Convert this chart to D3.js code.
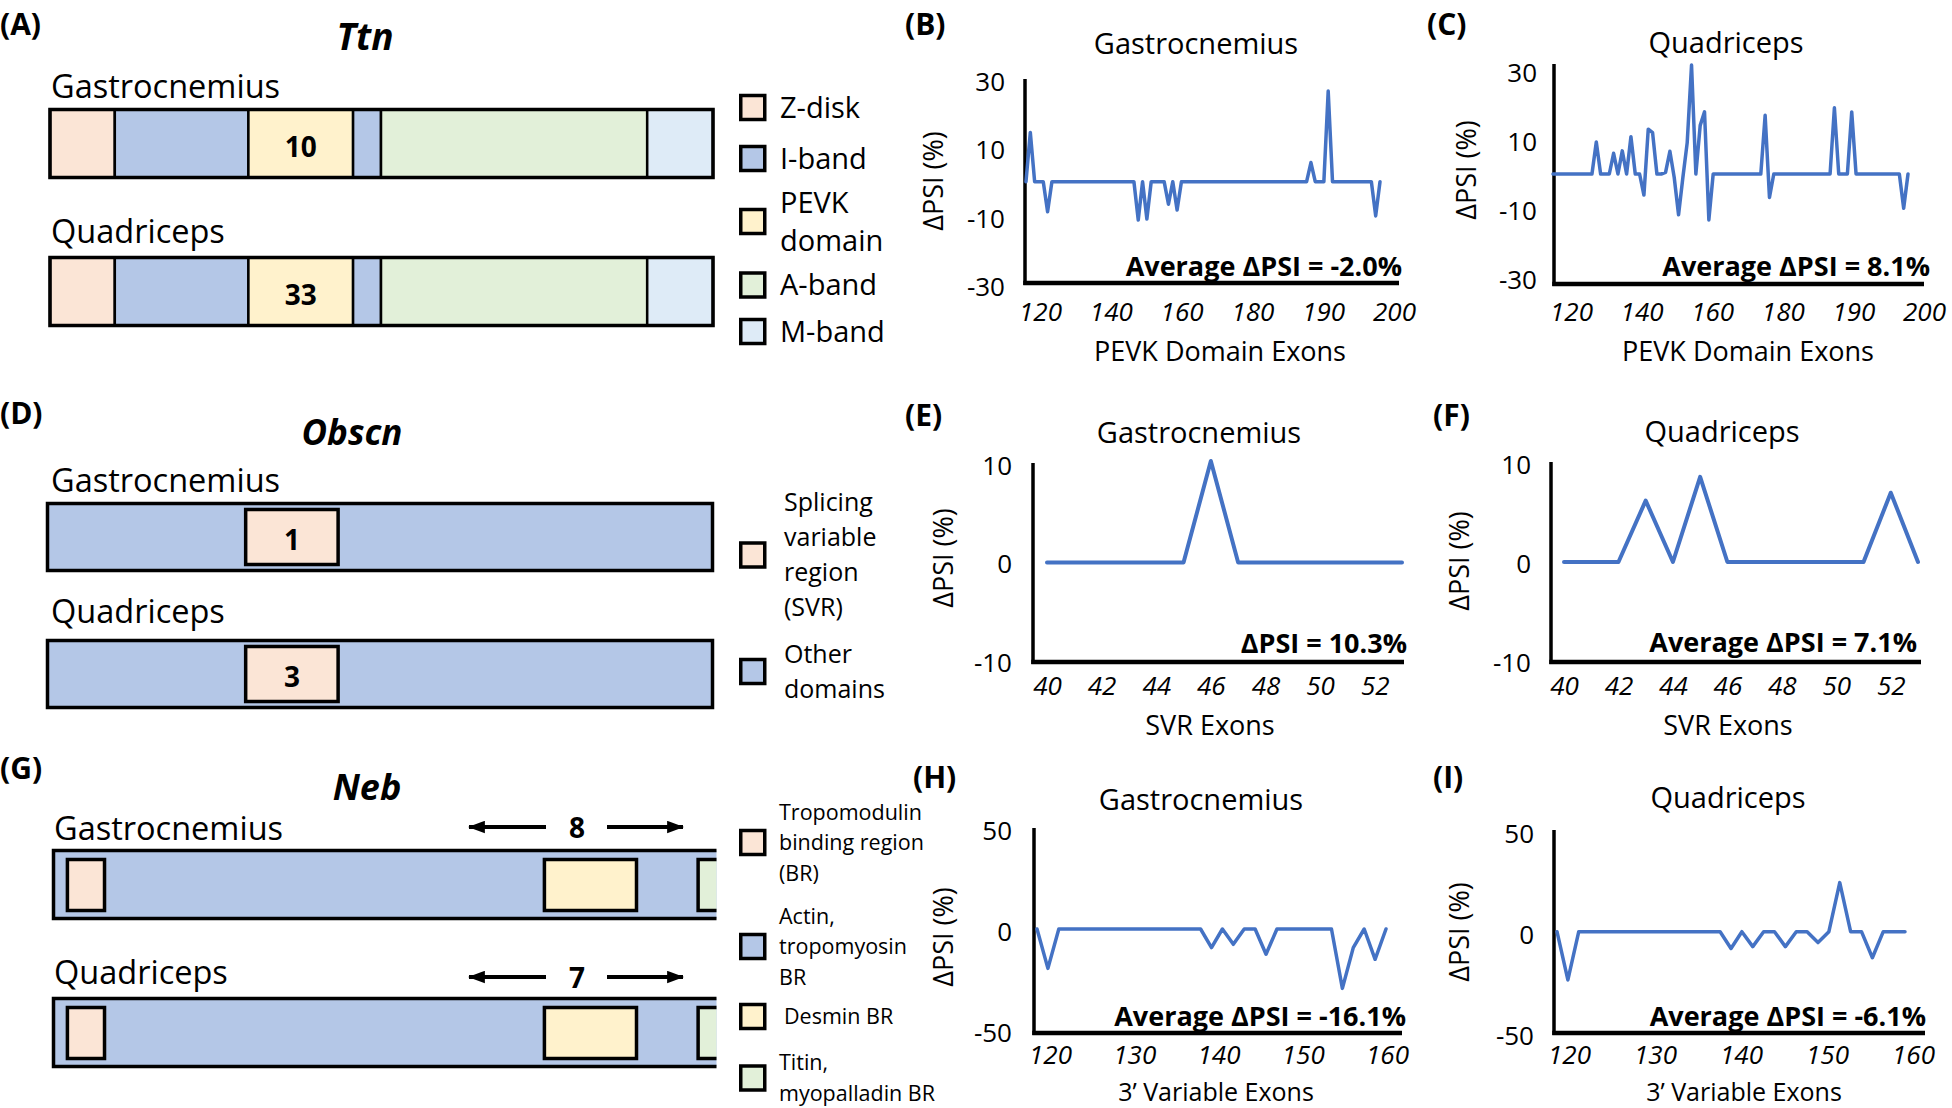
<!DOCTYPE html>
<html>
<head>
<meta charset="utf-8">
<script src="https://cdn.jsdelivr.net/npm/d3@7"></script>
<style>
html,body{margin:0;padding:0;background:#fff;}
svg{display:block;}
</style>
</head>
<body>
<svg id="fig" width="1952" height="1108"></svg>
<script>
// ================= DATA =================
const muscles = ["Gastrocnemius", "Quadriceps"];

// (A) Ttn schematic (relative domain lengths)
const ttnDomains = ["Z-disk", "I-band", "PEVK domain", "I-band", "A-band", "M-band"];
const ttnDomainLengths = [65, 134, 105, 28, 267, 66];
const ttnPevkExons = [10, 33];
const ttnLegendItems = ["Z-disk", "I-band", "PEVK domain", "A-band", "M-band"];
const ttnLegendLines = [["Z-disk"], ["I-band"], ["PEVK", "domain"], ["A-band"], ["M-band"]];

// (D) Obscn schematic
const obscnLength = 100;
const obscnSvrRange = [29.8, 43.7];
const obscnSvrExons = [1, 3];
const obscnLegendItems = ["SVR", "Other domains"];
const obscnLegendLines = [["Splicing", "variable", "region", "(SVR)"], ["Other", "domains"]];

// (G) Neb schematic
const nebLength = 100;
const nebBoxes = ["Tropomodulin BR", "Desmin BR", "Titin, myopalladin BR"];
const nebBoxStart = [2.1, 74.1, 97.3];
const nebBoxEnd = [7.7, 88.0, 102.5];
const nebVariableExons = [8, 7];
const nebLegendItems = ["Tropomodulin BR", "Actin, tropomyosin BR", "Desmin BR", "Titin, myopalladin BR"];
const nebLegendLines = [["Tropomodulin", "binding region", "(BR)"], ["Actin,", "tropomyosin", "BR"], ["Desmin BR"], ["Titin,", "myopalladin BR"]];

// (B)(C) Ttn PEVK exons dPSI
const pevkTicks = ["120", "140", "160", "180", "190", "200"];
const pevkGastroPsi = [
  0, 14.4, 0, 0, 0, -8.8, 0, 0, 0, 0,
  0, 0, 0, 0, 0, 0, 0, 0, 0, 0,
  0, 0, 0, 0, 0, 0, -11.2, 0, -10.9, 0,
  0, 0, 0, -6.6, 0, -8.3, 0, 0, 0, 0,
  0, 0, 0, 0, 0, 0, 0, 0, 0, 0,
  0, 0, 0, 0, 0, 0, 0, 0, 0, 0,
  0, 0, 0, 0, 0, 0, 5.6, 0, 0, 0,
  26.5, 0, 0, 0, 0, 0, 0, 0, 0, 0,
  0, -10, 0];
const pevkQuadPsi = [
  0, 0, 0, 0, 0, 0, 0, 0, 0, 0,
  9.3, 0, 0, 0, 6.0, 0, 6.7, 0, 10.8, 0,
  0, -6.1, 13.0, 12.0, 0, 0, 0.5, 6.6, -1, -11.8,
  -1, 9.1, 31.6, 0, 14.1, 18, -13.3, 0, 0, 0,
  0, 0, 0, 0, 0, 0, 0, 0, 0, 17,
  -6.8, 0, 0, 0, 0, 0, 0, 0, 0, 0,
  0, 0, 0, 0, 0, 19.2, 0, 0, 0, 18,
  0, 0, 0, 0, 0, 0, 0, 0, 0, 0,
  0, -9.9, 0];
const pevkLabels = ["Average ΔPSI = -2.0%", "Average ΔPSI = 8.1%"];

// (E)(F) Obscn SVR exons dPSI
const svrExons = [40, 41, 42, 43, 44, 45, 46, 47, 48, 49, 50, 51, 52, 53];
const svrTicks = [40, 42, 44, 46, 48, 50, 52];
const svrGastroPsi = [0, 0, 0, 0, 0, 0, 10.3, 0, 0, 0, 0, 0, 0, 0];
const svrQuadPsi = [0, 0, 0, 6.2, 0, 8.6, 0, 0, 0, 0, 0, 0, 7.0, 0];
const svrLabels = ["ΔPSI = 10.3%", "Average ΔPSI = 7.1%"];

// (H)(I) Neb 3' variable exons dPSI
const nebTicks = ["120", "130", "140", "150", "160"];
const nebGastroPsi = [
  0, -19.5, 0, 0, 0, 0, 0, 0, 0, 0,
  0, 0, 0, 0, 0, 0, -9.2, 0, -7.6, 0,
  0, -12.5, 0, 0, 0, 0, 0, 0, -29.4, -9.2,
  0, -15, 0];
const nebQuadPsi = [
  0, -23.9, 0, 0, 0, 0, 0, 0, 0, 0,
  0, 0, 0, 0, 0, 0, -8.3, 0, -7.4, 0,
  0, -7.4, 0, 0, -5.4, 0, 24.3, 0, 0, -12.9,
  0, 0, 0];
const nebLabels = ["Average ΔPSI = -16.1%", "Average ΔPSI = -6.1%"];

// ================= STYLE =================
const FONT = '"Open Sans", "Liberation Sans", sans-serif';
const colorOf = {
  "Z-disk": "#FBE5D6", "I-band": "#B4C7E7", "PEVK domain": "#FFF2CC", "A-band": "#E2F0D9", "M-band": "#DEEBF7",
  "SVR": "#FBE5D6", "Other domains": "#B4C7E7",
  "Tropomodulin BR": "#FBE5D6", "Actin, tropomyosin BR": "#B4C7E7", "Desmin BR": "#FFF2CC", "Titin, myopalladin BR": "#E2F0D9"
};
const LINE_COLOR = "#4472C4";

const svg = d3.select("#fig");
svg.append("rect").attr("width", 1952).attr("height", 1108).attr("fill", "#fff");

function txt(g, x, y, s, o = {}) {
  return g.append("text")
    .attr("x", x).attr("y", y)
    .attr("font-family", FONT)
    .attr("font-size", o.size || 26)
    .attr("font-weight", o.weight || "normal")
    .attr("font-style", o.style || "normal")
    .attr("text-anchor", o.anchor || "start")
    .attr("fill", "#000")
    .text(String(s));
}

function legend(g, items, lines, sqX, centers, textX, lineH, size) {
  items.forEach((it, i) => {
    g.append("rect")
      .attr("x", sqX + 1.75).attr("y", centers[i] - 12).attr("width", 24).attr("height", 24)
      .attr("fill", colorOf[it]).attr("stroke", "#000").attr("stroke-width", 3.5);
    const n = lines[i].length;
    lines[i].forEach((ln, k) => {
      txt(g, Array.isArray(textX) ? textX[i] : textX, centers[i] + (k - (n - 1) / 2) * lineH + size * 0.357, ln, { size });
    });
  });
}

// ================= (A) Ttn =================
{
  const g = svg.append("g");
  txt(g, 0, 35, "(A)", { size: 30, weight: "bold" });
  txt(g, 365, 50, "Ttn", { size: 37, weight: "bold", style: "italic", anchor: "middle" });
  const ends = d3.cumsum(ttnDomainLengths);
  const x = d3.scaleLinear().domain([0, d3.sum(ttnDomainLengths)]).range([50, 713]);
  const rows = [{ y: 109.5, label: 98 }, { y: 257.5, label: 243 }];
  muscles.forEach((m, i) => {
    const r = rows[i];
    txt(g, 51, r.label, m, { size: 32.5 });
    ttnDomains.forEach((d, j) => {
      const s = j ? ends[j - 1] : 0;
      g.append("rect").attr("x", x(s)).attr("y", r.y).attr("width", x(ends[j]) - x(s)).attr("height", 68)
        .attr("fill", colorOf[d]).attr("stroke", "#000").attr("stroke-width", 2.5);
    });
    g.append("rect").attr("x", x(0)).attr("y", r.y).attr("width", x(ends[ends.length - 1]) - x(0)).attr("height", 68)
      .attr("fill", "none").attr("stroke", "#000").attr("stroke-width", 3.5);
    const pj = ttnDomains.indexOf("PEVK domain");
    txt(g, (x(ends[pj - 1]) + x(ends[pj])) / 2, r.y + 47, ttnPevkExons[i], { size: 28, weight: "bold", anchor: "middle" });
  });
  legend(g, ttnLegendItems, ttnLegendLines, 739, [107.5, 158.5, 221.5, 285, 331.5], 780, 38, 29);
}

// ================= (D) Obscn =================
{
  const g = svg.append("g");
  txt(g, 0, 424, "(D)", { size: 30, weight: "bold" });
  txt(g, 352, 445, "Obscn", { size: 35, weight: "bold", style: "italic", anchor: "middle" });
  const x = d3.scaleLinear().domain([0, obscnLength]).range([47.5, 712.5]);
  const rows = [{ y: 503.5, label: 492 }, { y: 640.5, label: 623 }];
  muscles.forEach((m, i) => {
    const r = rows[i];
    txt(g, 51, r.label, m, { size: 32.5 });
    g.append("rect").attr("x", x(0)).attr("y", r.y).attr("width", x(obscnLength) - x(0)).attr("height", 67)
      .attr("fill", colorOf["Other domains"]).attr("stroke", "#000").attr("stroke-width", 3.5);
    g.append("rect").attr("x", x(obscnSvrRange[0])).attr("y", r.y + 6).attr("width", x(obscnSvrRange[1]) - x(obscnSvrRange[0])).attr("height", 55)
      .attr("fill", colorOf["SVR"]).attr("stroke", "#000").attr("stroke-width", 3.5);
    txt(g, (x(obscnSvrRange[0]) + x(obscnSvrRange[1])) / 2, r.y + 46, obscnSvrExons[i], { size: 28, weight: "bold", anchor: "middle" });
  });
  legend(g, obscnLegendItems, obscnLegendLines, 739, [555, 671.5], 784, 35, 25);
}

// ================= (G) Neb =================
{
  const g = svg.append("g");
  const defs = svg.append("defs");
  defs.append("clipPath").attr("id", "nebclip").append("rect").attr("x", 0).attr("y", 780).attr("width", 716.5).attr("height", 328);
  defs.append("marker").attr("id", "arrowhead").attr("viewBox", "0 0 15 11").attr("refX", 14).attr("refY", 5.5)
    .attr("markerUnits", "userSpaceOnUse").attr("markerWidth", 17).attr("markerHeight", 13)
    .attr("orient", "auto-start-reverse")
    .append("path").attr("d", "M0,0L15,5.5L0,11z").attr("fill", "#000");

  txt(g, 0, 779, "(G)", { size: 30, weight: "bold" });
  txt(g, 367, 800, "Neb", { size: 36, weight: "bold", style: "italic", anchor: "middle" });
  const x = d3.scaleLinear().domain([0, nebLength]).range([53.5, 716]);
  const rows = [{ y: 850.5, label: 840, arrow: 827, num: 838 }, { y: 998.5, label: 984, arrow: 977, num: 988 }];
  const numX = 577;
  const bars = g.append("g").attr("clip-path", "url(#nebclip)");
  muscles.forEach((m, i) => {
    const r = rows[i];
    txt(g, 54, r.label, m, { size: 32.5 });
    bars.append("rect").attr("x", x(0)).attr("y", r.y).attr("width", x(nebLength + 5) - x(0)).attr("height", 68)
      .attr("fill", colorOf["Actin, tropomyosin BR"]).attr("stroke", "#000").attr("stroke-width", 3.5);
    nebBoxes.forEach((b, j) => {
      bars.append("rect").attr("x", x(nebBoxStart[j])).attr("y", r.y + 9).attr("width", x(nebBoxEnd[j]) - x(nebBoxStart[j])).attr("height", 51)
        .attr("fill", colorOf[b]).attr("stroke", "#000").attr("stroke-width", 3.5);
    });
    txt(g, numX, r.num, nebVariableExons[i], { size: 28, weight: "bold", anchor: "middle" });
    g.append("line").attr("x1", numX - 31).attr("x2", numX - 108).attr("y1", r.arrow).attr("y2", r.arrow)
      .attr("stroke", "#000").attr("stroke-width", 4).attr("marker-end", "url(#arrowhead)");
    g.append("line").attr("x1", numX + 30).attr("x2", numX + 106).attr("y1", r.arrow).attr("y2", r.arrow)
      .attr("stroke", "#000").attr("stroke-width", 4).attr("marker-end", "url(#arrowhead)");
  });
  legend(g, nebLegendItems, nebLegendLines, 739, [842.5, 946.5, 1016.5, 1078], [779, 779, 784, 779], 30.5, 21.5);
}

// ================= LINE CHARTS =================
function chart(c) {
  const g = svg.append("g");
  txt(g, c.tag[0], c.tag[1], c.tagText, { size: 30, weight: "bold" });
  txt(g, c.title[0], c.title[1], c.titleText, { size: 29, anchor: "middle" });

  const y = d3.scaleLinear().domain(c.yDomain).range(c.yRange);
  const xLine = c.xLine;

  // axes
  g.append("line").attr("x1", c.axisX).attr("x2", c.axisX).attr("y1", c.axisTop).attr("y2", c.axisBottom + 2)
    .attr("stroke", "#000").attr("stroke-width", 3.5);
  g.append("line").attr("x1", c.axisX - 1.75).attr("x2", c.axisRight).attr("y1", c.axisBottom).attr("y2", c.axisBottom)
    .attr("stroke", "#000").attr("stroke-width", 4.5);

  const ya = g.append("g").attr("transform", `translate(${c.yLabelX},${c.yLabelDy})`)
    .call(d3.axisLeft(y).tickValues(c.yTicks).tickSize(0).tickPadding(0).tickFormat(d => String(d)));
  ya.select(".domain").remove();
  ya.selectAll("text").attr("font-family", FONT).attr("font-size", 26).attr("fill", "#000");

  const xa = g.append("g").attr("transform", `translate(0,${c.xTickTop})`)
    .call(d3.axisBottom(c.tickScale).tickValues(c.tickValues).tickSize(0).tickPadding(0).tickFormat(d => String(d)));
  xa.select(".domain").remove();
  xa.selectAll("text").attr("font-family", FONT).attr("font-size", 26).attr("font-style", "italic").attr("fill", "#000");

  // data line
  g.append("path").datum(c.values)
    .attr("d", d3.line().x((d, i) => xLine(c.xValues ? c.xValues[i] : i)).y(d => y(d)))
    .attr("fill", "none").attr("stroke", LINE_COLOR).attr("stroke-width", c.lineW || 3.5)
    .attr("stroke-linejoin", "round").attr("stroke-linecap", "round");

  txt(g, c.avg[0], c.avg[1], c.avgText, { size: 27, weight: "bold", anchor: "end" });
  txt(g, c.xTitle[0], c.xTitle[1], c.xTitleText, { size: c.xTitleSize || 27, anchor: "middle" });
  g.append("text").attr("transform", `translate(${c.yTitle[0]},${c.yTitle[1]}) rotate(-90)`)
    .attr("text-anchor", "middle").attr("dominant-baseline", "central")
    .attr("font-family", FONT).attr("font-size", 27).attr("fill", "#000").text("ΔPSI (%)");
}

// (B)
chart({
  tag: [905, 35], tagText: "(B)", title: [1196, 54], titleText: muscles[0],
  axisX: 1025, axisTop: 79, axisBottom: 283, axisRight: 1399,
  yDomain: [-30, 30], yRange: [284.3, 79.1], yTicks: [30, 10, -10, -30], yLabelX: 1005, yLabelDy: 3,
  xLine: d3.scaleLinear().domain([0, pevkGastroPsi.length - 1]).range([1026, 1380]),
  values: pevkGastroPsi,
  tickScale: d3.scalePoint().domain(pevkTicks).range([1040, 1394]), tickValues: null, xTickTop: 303,
  avg: [1402, 276], avgText: pevkLabels[0],
  xTitle: [1220, 361], xTitleText: "PEVK Domain Exons", yTitle: [932, 181]
});
// (C)
chart({
  tag: [1427, 35], tagText: "(C)", title: [1726, 53], titleText: muscles[1],
  axisX: 1554, axisTop: 64, axisBottom: 284, axisRight: 1924,
  yDomain: [-30, 30], yRange: [277.5, 70.5], yTicks: [30, 10, -10, -30], yLabelX: 1537, yLabelDy: 3,
  xLine: d3.scaleLinear().domain([0, pevkQuadPsi.length - 1]).range([1553, 1908]),
  values: pevkQuadPsi,
  tickScale: d3.scalePoint().domain(pevkTicks).range([1571, 1924]), tickValues: null, xTickTop: 303,
  avg: [1930, 276], avgText: pevkLabels[1],
  xTitle: [1748, 361], xTitleText: "PEVK Domain Exons", yTitle: [1465, 170]
});
// (E)
{
  const xs = d3.scaleLinear().domain([svrExons[0], svrExons[svrExons.length - 1]]).range([1047, 1402]);
  chart({
    tag: [905, 426], tagText: "(E)", title: [1199, 443], titleText: muscles[0],
    axisX: 1033, axisTop: 463, axisBottom: 662, axisRight: 1404,
    yDomain: [-10, 10], yRange: [661, 464], yTicks: [10, 0, -10], yLabelX: 1012, yLabelDy: 2,
    xLine: xs, xValues: svrExons, values: svrGastroPsi, lineW: 4,
    tickScale: xs, tickValues: svrTicks, xTickTop: 677,
    avg: [1407, 653], avgText: svrLabels[0],
    xTitle: [1210, 735], xTitleText: "SVR Exons", yTitle: [942, 558]
  });
}
// (F)
{
  const xs = d3.scaleLinear().domain([svrExons[0], svrExons[svrExons.length - 1]]).range([1564, 1918]);
  chart({
    tag: [1433, 426], tagText: "(F)", title: [1722, 442], titleText: muscles[1],
    axisX: 1551, axisTop: 462, axisBottom: 662, axisRight: 1921,
    yDomain: [-10, 10], yRange: [661, 463], yTicks: [10, 0, -10], yLabelX: 1531, yLabelDy: 2,
    xLine: xs, xValues: svrExons, values: svrQuadPsi, lineW: 4,
    tickScale: xs, tickValues: svrTicks, xTickTop: 677,
    avg: [1917, 652], avgText: svrLabels[1],
    xTitle: [1728, 735], xTitleText: "SVR Exons", yTitle: [1458, 561]
  });
}
// (H)
chart({
  tag: [913, 788], tagText: "(H)", title: [1201, 810], titleText: muscles[0],
  axisX: 1034, axisTop: 828, axisBottom: 1033, axisRight: 1402,
  yDomain: [-50, 50], yRange: [1030, 828], yTicks: [50, 0, -50], yLabelX: 1012, yLabelDy: 3,
  xLine: d3.scaleLinear().domain([0, nebGastroPsi.length - 1]).range([1037, 1386]),
  values: nebGastroPsi,
  tickScale: d3.scalePoint().domain(nebTicks).range([1050, 1387]), tickValues: null, xTickTop: 1046,
  avg: [1406, 1026], avgText: nebLabels[0],
  xTitle: [1216, 1100.5], xTitleText: "3’ Variable Exons", xTitleSize: 25, yTitle: [942, 937]
});
// (I)
chart({
  tag: [1433, 788], tagText: "(I)", title: [1728, 808], titleText: muscles[1],
  axisX: 1554, axisTop: 830, axisBottom: 1033, axisRight: 1925,
  yDomain: [-50, 50], yRange: [1032.7, 830.7], yTicks: [50, 0, -50], yLabelX: 1534, yLabelDy: 3,
  xLine: d3.scaleLinear().domain([0, nebQuadPsi.length - 1]).range([1557, 1905]),
  values: nebQuadPsi,
  tickScale: d3.scalePoint().domain(nebTicks).range([1569, 1913]), tickValues: null, xTickTop: 1046,
  avg: [1926, 1026], avgText: nebLabels[1],
  xTitle: [1744, 1100.5], xTitleText: "3’ Variable Exons", xTitleSize: 25, yTitle: [1458, 932]
});
</script>
</body>
</html>
